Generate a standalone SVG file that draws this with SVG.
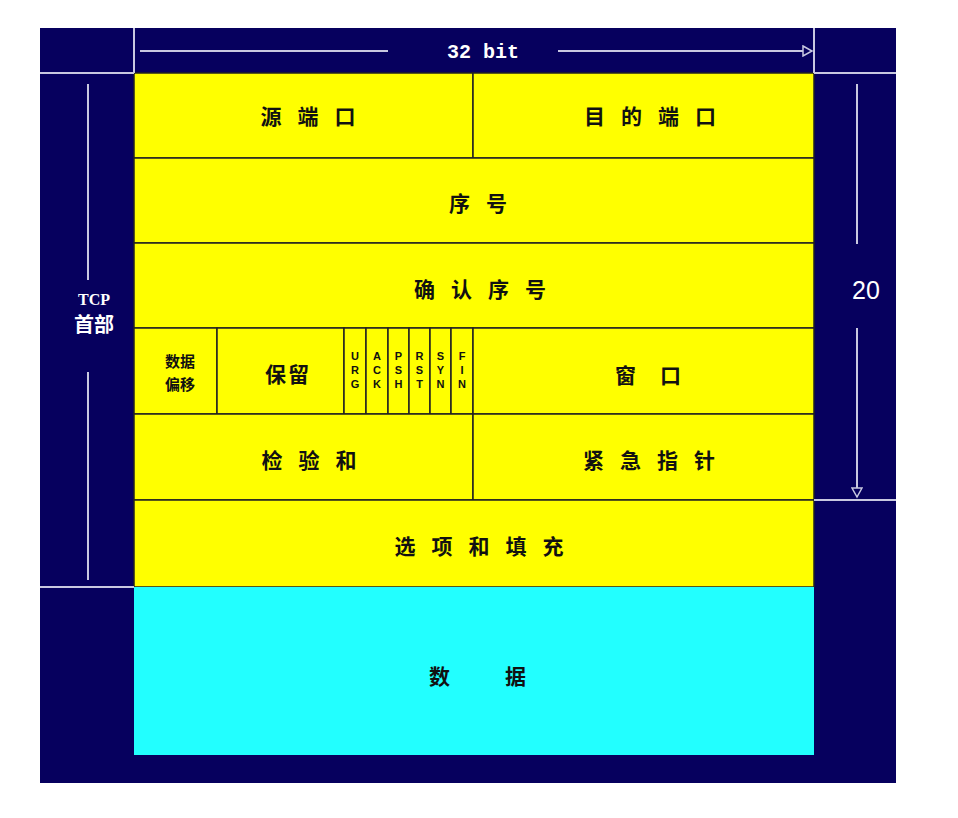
<svg xmlns="http://www.w3.org/2000/svg" width="958" height="818" viewBox="0 0 958 818">
<style>
.cell{fill:#ffff00;stroke:#222;stroke-width:1.5}
.lbl{font-family:"Noto Sans CJK SC","Liberation Sans",sans-serif;font-weight:bold;font-size:21px;fill:#111;text-anchor:middle;letter-spacing:16px}
.flag{font-family:"Liberation Sans",sans-serif;font-weight:bold;font-size:11px;fill:#111;text-anchor:middle}
.wl{stroke:#c8c8e0;stroke-width:2;fill:none}
.wt{font-family:"Liberation Mono",monospace;font-weight:bold;fill:#fff;text-anchor:middle}
</style>
<defs>
<marker id="ah" markerWidth="12" markerHeight="12" refX="10" refY="6" orient="auto" markerUnits="userSpaceOnUse">
<path d="M1,1 L10,6 L1,11 Z" fill="#06005e" stroke="#c8c8e0" stroke-width="1.5"/>
</marker>
</defs>
<rect x="0" y="0" width="958" height="818" fill="#ffffff"/>
<rect x="40" y="28" width="856" height="755" fill="#06005e"/>
<g id="row1">
<rect class="cell" x="134" y="73" width="339" height="85"/>
<text class="lbl" x="316" y="124">源端口</text>
<rect class="cell" x="473" y="73" width="341" height="85"/>
<text class="lbl" x="658" y="124">目的端口</text>
</g>
<g id="row2">
<rect class="cell" x="134" y="158" width="680" height="85"/>
<text class="lbl" x="486" y="211">序号</text>
</g>
<g id="row3">
<rect class="cell" x="134" y="243" width="680" height="85"/>
<text class="lbl" x="488" y="297">确认序号</text>
</g>
<g id="row4">
<rect class="cell" x="134" y="328" width="83" height="86"/>
<text class="lbl" x="180" y="367" style="font-size:15px;letter-spacing:0">数据</text>
<text class="lbl" x="180" y="390" style="font-size:15px;letter-spacing:0">偏移</text>
<rect class="cell" x="217" y="328" width="127" height="86"/>
<text class="lbl" x="288" y="382" style="letter-spacing:2px">保留</text>
<rect class="cell" x="344" y="328" width="22" height="86"/>
<text class="flag" x="355" y="360">U</text><text class="flag" x="355" y="374">R</text><text class="flag" x="355" y="388">G</text>
<rect class="cell" x="366" y="328" width="22" height="86"/>
<text class="flag" x="377" y="360">A</text><text class="flag" x="377" y="374">C</text><text class="flag" x="377" y="388">K</text>
<rect class="cell" x="388" y="328" width="21" height="86"/>
<text class="flag" x="398.5" y="360">P</text><text class="flag" x="398.5" y="374">S</text><text class="flag" x="398.5" y="388">H</text>
<rect class="cell" x="409" y="328" width="21" height="86"/>
<text class="flag" x="419.5" y="360">R</text><text class="flag" x="419.5" y="374">S</text><text class="flag" x="419.5" y="388">T</text>
<rect class="cell" x="430" y="328" width="21" height="86"/>
<text class="flag" x="440.5" y="360">S</text><text class="flag" x="440.5" y="374">Y</text><text class="flag" x="440.5" y="388">N</text>
<rect class="cell" x="451" y="328" width="22" height="86"/>
<text class="flag" x="462" y="360">F</text><text class="flag" x="462" y="374">I</text><text class="flag" x="462" y="388">N</text>
<rect class="cell" x="473" y="328" width="341" height="86"/>
<text class="lbl" x="660" y="383" style="letter-spacing:24px">窗口</text>
</g>
<g id="row5">
<rect class="cell" x="134" y="414" width="339" height="86"/>
<text class="lbl" x="317" y="468">检验和</text>
<rect class="cell" x="473" y="414" width="341" height="86"/>
<text class="lbl" x="657" y="468">紧急指针</text>
</g>
<g id="row6">
<rect class="cell" x="134" y="500" width="680" height="87"/>
<text class="lbl" x="487" y="554">选项和填充</text>
</g>
<g id="data">
<rect x="134" y="587" width="680" height="168" fill="#22ffff"/>
<text class="lbl" x="505" y="684" style="letter-spacing:55px">数据</text>
</g>
<g id="connectors">
<line class="wl" x1="134" y1="28" x2="134" y2="73"/>
<line class="wl" x1="814" y1="28" x2="814" y2="73"/>
<line class="wl" x1="40" y1="73" x2="134" y2="73"/>
<line class="wl" x1="814" y1="73" x2="896" y2="73"/>
<line class="wl" x1="40" y1="587" x2="134" y2="587"/>
<line class="wl" x1="814" y1="500" x2="896" y2="500"/>
<line class="wl" x1="140" y1="51" x2="388" y2="51"/>
<line class="wl" x1="558" y1="51" x2="812" y2="51" marker-end="url(#ah)"/>
<line class="wl" x1="88" y1="84" x2="88" y2="280"/>
<line class="wl" x1="88" y1="372" x2="88" y2="580"/>
<line class="wl" x1="857" y1="84" x2="857" y2="244"/>
<line class="wl" x1="857" y1="328" x2="857" y2="497" marker-end="url(#ah)"/>
</g>
<g id="labels">
<text class="wt" x="483" y="58" font-size="20">32 bit</text>
<text x="94" y="305" font-family="Liberation Serif,serif" font-weight="bold" font-size="16" fill="#fff" text-anchor="middle">TCP</text>
<text x="94" y="332" font-family="Noto Sans CJK SC,sans-serif" font-weight="bold" font-size="20" fill="#fff" text-anchor="middle">首部</text>
<text x="866" y="299" font-family="Liberation Sans,sans-serif" font-size="25" fill="#fff" text-anchor="middle">20</text>
</g>
</svg>
